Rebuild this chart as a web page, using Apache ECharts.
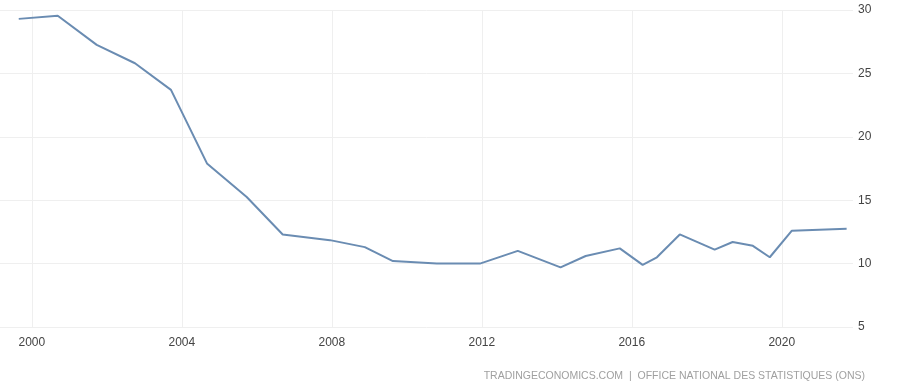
<!DOCTYPE html>
<html>
<head>
<meta charset="utf-8">
<script src="https://cdn.jsdelivr.net/npm/echarts@6/dist/echarts.min.js"></script>
<style>
html,body{margin:0;padding:0;background:#fff;}
#chart{width:909px;height:391px;}
</style>
</head>
<body>
<div id="chart"></div>
<script>
// Decimal-year positions of the observations
const years = [1999.65, 2000.69, 2001.73, 2002.75, 2003.71, 2004.67, 2005.73, 2006.69, 2007.95, 2008.88, 2009.63, 2010.8, 2011.95, 2012.96, 2014.1, 2014.77, 2015.68, 2016.29, 2016.67, 2017.28, 2018.21, 2018.69, 2019.23, 2019.68, 2020.27, 2021.73];
// Unemployment rate (%)
const values = [29.3, 29.55, 27.25, 25.8, 23.7, 17.9, 15.25, 12.3, 11.85, 11.3, 10.2, 10.0, 10.0, 11.0, 9.7, 10.6, 11.2, 9.9, 10.5, 12.3, 11.1, 11.7, 11.4, 10.5, 12.6, 12.75];
const xTicks = [2000, 2004, 2008, 2012, 2016, 2020];
const yTicks = [5, 10, 15, 20, 25, 30];
const sourceText = 'TRADINGECONOMICS.COM  |  OFFICE NATIONAL DES STATISTIQUES (ONS)';

const chart = echarts.init(document.getElementById('chart'), null, {renderer: 'canvas'});
chart.setOption({
  animation: false,
  backgroundColor: '#ffffff',
  grid: {left: 0, right: 56, top: 10, bottom: 64, containLabel: false},
  graphic: [{
    type: 'text', right: 44, top: 371,
    style: {text: sourceText, fill: '#a0a0a0', font: '10.5px "Liberation Sans", Arial, sans-serif'}
  }],
  xAxis: {
    type: 'value',
    min: 1999.15, max: 2021.9,
    axisLine: {show: false},
    axisTick: {show: false, customValues: xTicks},
    axisLabel: {customValues: xTicks, color: '#444', fontSize: 12, margin: 10,
      fontFamily: '"Liberation Sans", Arial, sans-serif', formatter: v => String(v)},
    splitLine: {show: true, lineStyle: {color: '#efefef', width: 1}}
  },
  yAxis: {
    type: 'value', position: 'right',
    min: yTicks[0], max: yTicks[yTicks.length - 1], interval: 5,
    axisLine: {show: false}, axisTick: {show: false},
    axisLabel: {color: '#444', fontSize: 12, margin: 5,
      fontFamily: '"Liberation Sans", Arial, sans-serif'},
    splitLine: {show: true, lineStyle: {color: '#efefef', width: 1}}
  },
  series: [{
    type: 'line',
    data: years.map((y, i) => [y, values[i]]),
    showSymbol: false,
    lineStyle: {color: '#6a8cb2', width: 2},
    itemStyle: {color: '#6a8cb2'}
  }]
});
</script>
</body>
</html>
